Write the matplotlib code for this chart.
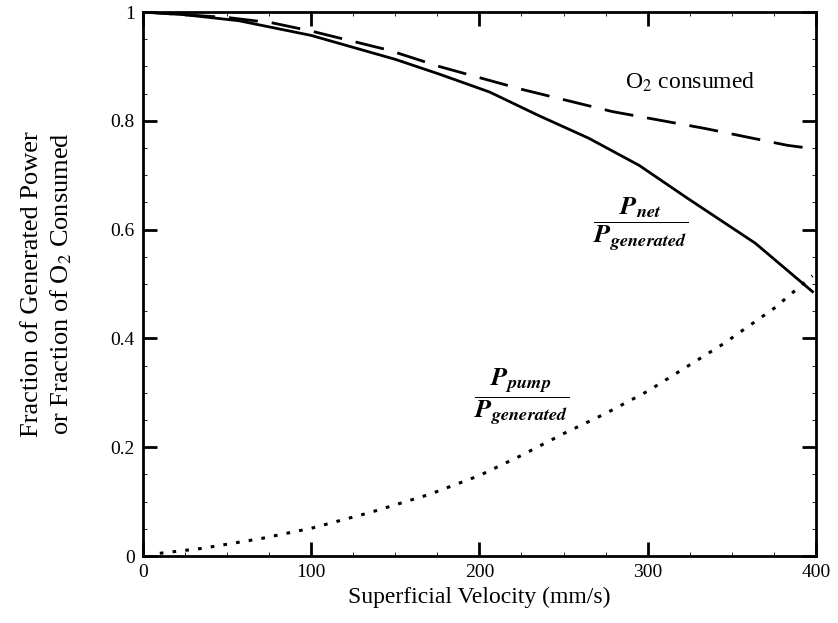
import matplotlib.pyplot as plt
from matplotlib.ticker import MultipleLocator, FixedLocator

plt.rcParams['font.family'] = ['Liberation Serif', 'DejaVu Serif']
plt.rcParams['mathtext.fontset'] = 'stix'

# valores
v_net = [0, 25, 57, 100, 117, 150, 176, 206, 235, 265, 295, 324, 364, 398]
p_net = [1.0, 0.995, 0.984, 0.957, 0.942, 0.913, 0.886, 0.853, 0.81, 0.768, 0.718, 0.657, 0.575, 0.486]

v_o2 = [0, 50, 77, 100, 146, 176, 225, 279, 334, 383, 400]
o2 = [1.0, 0.99, 0.98, 0.965, 0.93, 0.9, 0.858, 0.817, 0.786, 0.755, 0.748]

v_pump = [10, 35, 70, 100, 135, 170, 200, 225, 250, 275, 300, 345, 375, 398]
p_pump = [0.005, 0.014, 0.032, 0.051, 0.08, 0.113, 0.148, 0.185, 0.225, 0.262, 0.303, 0.39, 0.455, 0.515]

xticks = [0, 100, 200, 300, 400]
yticks = [0, 0.2, 0.4, 0.6, 0.8, 1]
ylabels = ['0', '0.2', '0.4', '0.6', '0.8', '1']

fig = plt.figure(figsize=(8.38, 6.23), dpi=100)
ax = fig.add_axes([0.1706, 0.1075, 0.8030, 0.8732])

ax.plot(v_net, p_net, color='black', lw=2.0)
ax.plot(v_o2, o2, color='black', lw=2.0, dashes=(10.5, 5))
ax.plot(v_pump, p_pump, color='black', lw=2.2, dashes=(1.2, 3.0))

ax.set_xlim(0, 400)
ax.set_ylim(0, 1)
ax.xaxis.set_major_locator(FixedLocator(xticks))
ax.yaxis.set_major_locator(FixedLocator(yticks))
ax.set_yticklabels(ylabels)
ax.xaxis.set_minor_locator(MultipleLocator(25))
ax.yaxis.set_minor_locator(MultipleLocator(0.05))
ax.tick_params(which='major', direction='in', length=10, width=2.0,
               top=True, right=True, labelsize=14, pad=6)
ax.tick_params(which='minor', direction='in', length=3, width=0.6,
               top=True, right=True)
for s in ax.spines.values():
    s.set_linewidth(2.0)

ax.set_xlabel('Superficial Velocity (mm/s)', fontsize=17, labelpad=4)
ax.set_ylabel('Fraction of Generated Power\nor Fraction of O$_2$ Consumed',
              fontsize=19, labelpad=26, linespacing=1.3)

ax.text(325, 0.87, 'O$_2$ consumed', fontsize=17, ha='center', va='center')
ax.text(296, 0.61, r'$\dfrac{\mathbfit{P}_{\mathbfit{net}}}{\mathbfit{P}_{\mathbfit{generated}}}$',
        fontsize=19, ha='center', va='center')
ax.text(225, 0.292, r'$\dfrac{\mathbfit{P}_{\mathbfit{pump}}}{\mathbfit{P}_{\mathbfit{generated}}}$',
        fontsize=19, ha='center', va='center')

fig.savefig('out.png', dpi=100)
